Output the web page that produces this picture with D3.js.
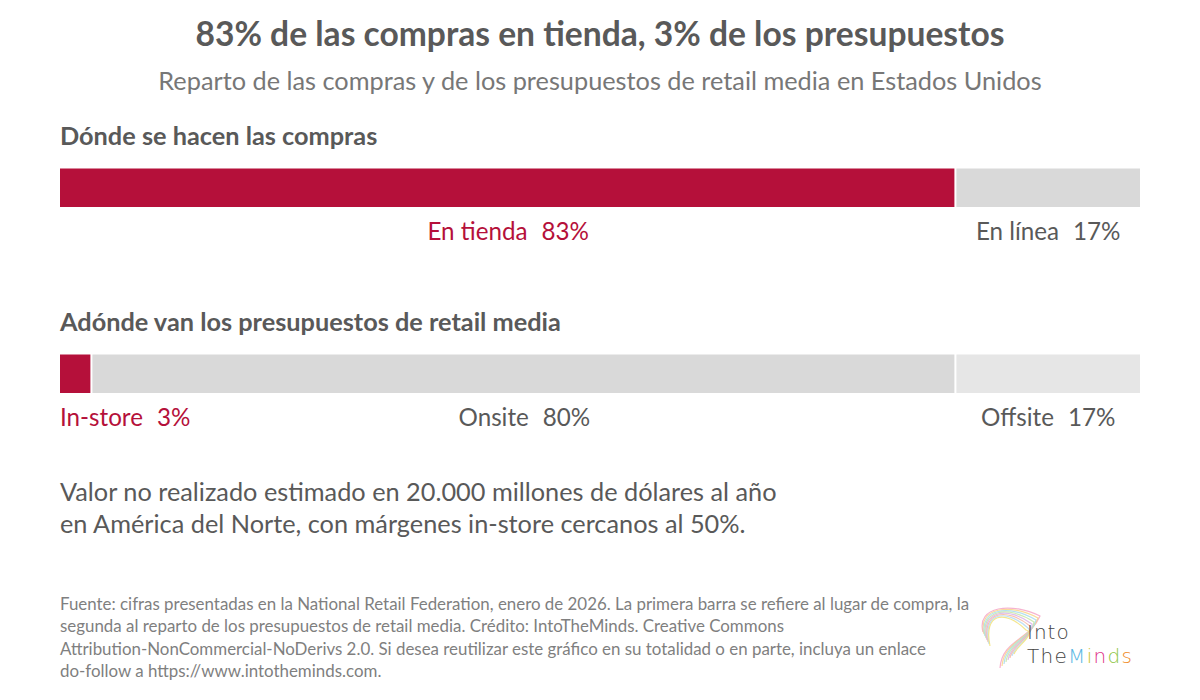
<!DOCTYPE html>
<html>
<head>
<meta charset="utf-8">
<script src="https://cdn.jsdelivr.net/npm/d3@7"></script>
<style>
  body { margin: 0; background: #fff; }
  svg { display: block; font-family: Lato, "Open Sans", sans-serif; }
</style>
</head>
<body>
<div id="chart"></div>
<script>
// data
const title = "83% de las compras en tienda, 3% de los presupuestos";
const subtitle = "Reparto de las compras y de los presupuestos de retail media en Estados Unidos";
const sectionTitles = ["Dónde se hacen las compras", "Adónde van los presupuestos de retail media"];
const purchaseCats = ["En tienda", "En línea"];
const purchaseVals = [83, 17];
const budgetCats = ["In-store", "Onsite", "Offsite"];
const budgetVals = [3, 80, 17];
const noteLines = [
  "Valor no realizado estimado en 20.000 millones de dólares al año",
  "en América del Norte, con márgenes in-store cercanos al 50%."
];
const sourceLines = [
  "Fuente: cifras presentadas en la National Retail Federation, enero de 2026. La primera barra se refiere al lugar de compra, la",
  "segunda al reparto de los presupuestos de retail media. Crédito: IntoTheMinds. Creative Commons",
  "Attribution-NonCommercial-NoDerivs 2.0. Si desea reutilizar este gráfico en su totalidad o en parte, incluya un enlace",
  "do-follow a https://www.intotheminds.com."
];

const width = 1200, height = 700;
const red = "#b5103a", dark = "#595959";

const svg = d3.select("#chart").append("svg")
  .attr("width", width)
  .attr("height", height);

svg.append("text")
  .attr("x", 600).attr("y", 46)
  .attr("text-anchor", "middle")
  .style("font-size", "33.6px").style("font-weight", "bold")
  .style("fill", dark)
  .text(title);

svg.append("text")
  .attr("x", 600).attr("y", 90)
  .attr("text-anchor", "middle")
  .style("font-size", "25.3px")
  .style("fill", "#777")
  .text(subtitle);

const x = d3.scaleLinear().domain([0, 100]).range([60, 1140]);

const fill = d3.scaleOrdinal()
  .domain(["En tienda", "En línea", "In-store", "Onsite", "Offsite"])
  .range([red, "#d9d9d9", red, "#d9d9d9", "#e6e6e6"]);
const labelColor = d3.scaleOrdinal()
  .domain(["En tienda", "En línea", "In-store", "Onsite", "Offsite"])
  .range([red, dark, red, dark, dark]);

function stack(cats, vals) {
  let acc = 0;
  return cats.map(function(c, i) {
    let d = {name: c, value: vals[i], x0: acc, x1: acc + vals[i]};
    acc += vals[i];
    return d;
  });
}

const blocks = [
  {title: sectionTitles[0], data: stack(purchaseCats, purchaseVals), top: 145},
  {title: sectionTitles[1], data: stack(budgetCats, budgetVals), top: 331}
];

blocks.forEach(function(b) {
  let g = svg.append("g");
  g.append("text")
    .attr("x", 60).attr("y", b.top)
    .style("font-size", "25.3px").style("font-weight", "bold")
    .style("fill", dark)
    .text(b.title);

  let n = b.data.length;
  g.selectAll("rect")
    .data(b.data)
    .enter()
    .append("rect")
    .attr("x", d => x(d.x0))
    .attr("y", b.top + 23.5)
    .attr("width", (d, i) => x(d.x1) - x(d.x0) - (i < n - 1 ? 2 : 0))
    .attr("height", 38.5)
    .style("fill", d => fill(d.name));

  let lab = g.selectAll(".lab")
    .data(b.data)
    .enter()
    .append("text")
    .attr("class", "lab")
    .attr("x", d => d.value < 10 ? x(d.x0) : (x(d.x0) + x(d.x1)) / 2)
    .attr("y", b.top + 95)
    .attr("text-anchor", d => d.value < 10 ? "start" : "middle")
    .style("font-size", "24.2px")
    .style("fill", d => labelColor(d.name));
  lab.append("tspan").text(d => d.name);
  lab.append("tspan").attr("dx", 14).text(d => d.value + "%");
});

svg.selectAll(".note")
  .data(noteLines)
  .enter()
  .append("text")
  .attr("class", "note")
  .attr("x", 60)
  .attr("y", (d, i) => 501 + i * 32)
  .style("font-size", "25.3px")
  .style("fill", dark)
  .text(d => d);

svg.selectAll(".src")
  .data(sourceLines)
  .enter()
  .append("text")
  .attr("class", "src")
  .attr("x", 60)
  .attr("y", (d, i) => 610 + i * 22.3)
  .style("font-size", "16.9px")
  .style("fill", "#7f7f7f")
  .text(d => d);

// logo
const logo = svg.append("g");
const brainCols = ["#f4a6c8", "#f9d48a", "#a6dcef", "#c5e6a6", "#d9b3e6", "#f7b7a3", "#b3d9f2", "#f2e27a"];
brainCols.forEach(function(c, i) {
  logo.append("path")
    .attr("d", "M" + (983 + i) + "," + (632 + i * 2) +
      " C" + (976 + i) + "," + (606 + i) + " " + (1012 - i) + "," + (602 + i) + " " + (1040 - i * 2) + "," + (616 + i * 2) +
      " C" + (1030 + i) + "," + (640 - i) + " " + (1002 + i * 2) + "," + (640 + i) + " " + (1000 + i * 2) + "," + (668 - i * 2))
    .style("fill", "none")
    .style("stroke", c)
    .style("stroke-width", 1.2)
    .style("opacity", 0.85);
});
logo.append("text")
  .attr("x", 1027).attr("y", 639)
  .style("font-family", "'DejaVu Sans', sans-serif")
  .style("font-size", "20px").style("font-weight", 300)
  .style("letter-spacing", "1px")
  .style("fill", "#444")
  .text("Into");
const tm = logo.append("text")
  .attr("x", 1027).attr("y", 663)
  .style("font-family", "'DejaVu Sans', sans-serif")
  .style("font-size", "20px").style("font-weight", 300)
  .style("letter-spacing", "1.3px");
const tmParts = [["The", "#444"], ["M", "#58b7e3"], ["i", "#c6c32a"], ["n", "#e0338a"], ["d", "#8cc63f"], ["s", "#f08a24"]];
tmParts.forEach(function(p) {
  tm.append("tspan").style("fill", p[1]).text(p[0]);
});
</script>
</body>
</html>
